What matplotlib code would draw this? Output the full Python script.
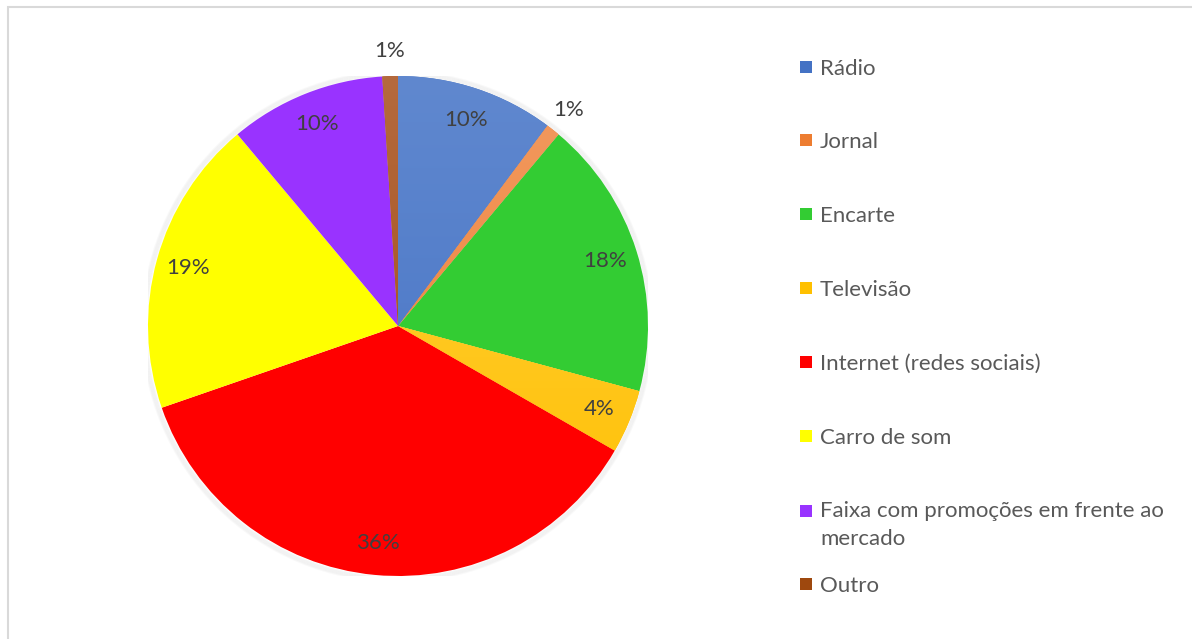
import numpy as np
import matplotlib.pyplot as plt
from matplotlib.patches import Rectangle, Circle
from matplotlib.colors import LinearSegmentedColormap

# Dados da pesquisa (percentual de respostas)
categorias = ['Rádio', 'Jornal', 'Encarte', 'Televisão', 'Internet (redes sociais)',
              'Carro de som', 'Faixa com promoções em frente ao\nmercado', 'Outro']
valores = [10.2, 0.9, 18.1, 4.1, 36.4, 19.2, 10.1, 1.0]
cores = ['#4472C4', '#ED7D31', '#33CC33', '#FFC000', '#FF0000', '#FFFF00', '#9933FF', '#9E480E']
# fatias com preenchimento em degradê (cor clara no topo, cor base embaixo)
degrade = {0: '#6088CF', 1: '#F29A60', 3: '#FFD040', 7: '#B56A3E'}

plt.rcParams['font.family'] = ['Lato', 'DejaVu Sans']
TAM = 16

fig = plt.figure(figsize=(11.92, 6.39), dpi=100)
W, H = 1192, 639

# moldura do gráfico
fig.patches.append(Rectangle((8 / W, -0.1), 1.2, 1 - 6.5 / H + 0.1, transform=fig.transFigure,
                             fill=False, edgecolor='#D9D9D9', linewidth=1.5))

cx, cy, r = 398, 326, 250
ax = fig.add_axes([(cx - r) / W, 1 - (cy + r) / H, 2 * r / W, 2 * r / H])

# sombra suave ao redor da pizza
for i in range(5):
    ax.add_patch(Circle((-0.002, -0.002), 1 + 0.004 * (i + 1), facecolor='none',
                        edgecolor='#909090', alpha=0.05, linewidth=1.5, zorder=0))

wedges, textos, pcts = ax.pie(valores, colors=cores, startangle=90, counterclock=False,
                              autopct='%.0f%%', pctdistance=0.87, radius=1,
                              wedgeprops=dict(linewidth=0),
                              textprops=dict(fontsize=TAM, color='#404040'))

grad = np.linspace(0, 1, 256).reshape(-1, 1)
for i, c_claro in degrade.items():
    cmap = LinearSegmentedColormap.from_list('g%d' % i, [cores[i], c_claro])
    img = ax.imshow(grad, cmap=cmap, extent=(-1, 1, -1, 1), origin='lower',
                    aspect='auto', zorder=wedges[i].get_zorder() + 0.1)
    img.set_clip_path(wedges[i])

# rótulos das fatias pequenas ficam do lado de fora
for w, t, v in zip(wedges, pcts, valores):
    t.set_zorder(5)
    if v < 2:
        ang = np.deg2rad((w.theta1 + w.theta2) / 2)
        t.set_position((1.1 * np.cos(ang), 1.1 * np.sin(ang)))

ax.set_xlim(-1, 1)
ax.set_ylim(-1, 1)
ax.set_aspect('equal')
ax.axis('off')

# legenda
ys = [67, 140, 214, 288, 362, 436, 511, 584]
for nome, cor, y in zip(categorias, cores, ys):
    fig.patches.append(Rectangle((800 / W, 1 - (y + 6) / H), 12 / W, 12 / H,
                                 transform=fig.transFigure, facecolor=cor, edgecolor='none'))
    if '\n' in nome:
        fig.text(820 / W, 1 - (y - 10) / H, nome, fontsize=TAM, color='#595959',
                 va='top', ha='left', linespacing=1.5)
    else:
        fig.text(820 / W, 1 - (y + 2) / H, nome, fontsize=TAM, color='#595959',
                 va='center', ha='left')

fig.savefig('out.png', dpi=100)
